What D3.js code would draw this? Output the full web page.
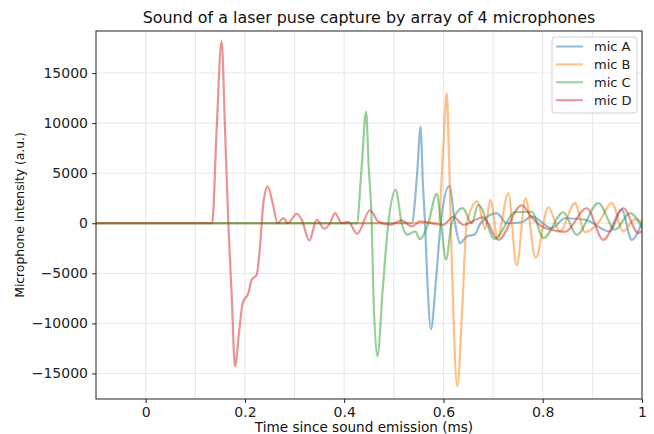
<!DOCTYPE html>
<html>
<head>
<meta charset="utf-8">
<script src="https://cdn.jsdelivr.net/npm/d3@7"></script>
<style>
  html, body { margin: 0; padding: 0; background: #fff; }
  svg { display: block; font-family: "DejaVu Sans", sans-serif; }
</style>
</head>
<body>
<svg id="chart" width="654" height="434"></svg>
<script>
// ---- data (time in ms, intensity in a.u.) ----
const seriesNames = ["mic A", "mic B", "mic C", "mic D"];
const seriesColors = ["#1f77b4", "#ff7f0e", "#2ca02c", "#d62728"];

const micA = [[-0.1,0],[0.2,0],[0.5361,0],[0.5461,4340],[0.5542,9660],[0.5582,4340],[0.5629,0],[0.5675,-5640],[0.5749,-10560],[0.585,-5640],[0.5945,0],[0.6118,3740],[0.6233,0],[0.6334,-1980],[0.6469,-1320],[0.6636,-1100],[0.6736,-100],[0.7073,1020],[0.7274,0],[0.7577,100],[0.7778,680],[0.8181,-480],[0.8449,500],[0.8852,350],[0.9355,-820],[0.9591,1350],[0.9793,-1650],[1.0026,520]];

const micB = [[-0.1,0],[0.2,0],[0.5896,0],[0.5997,7660],[0.6066,12990],[0.6106,7660],[0.6146,0],[0.6199,-8960],[0.6279,-16290],[0.6374,-8960],[0.6469,0],[0.6686,2180],[0.6837,-600],[0.6944,2350],[0.7089,-1400],[0.7307,3010],[0.7476,-4200],[0.7653,2510],[0.7857,-3450],[0.8112,1600],[0.8348,-820],[0.865,2020],[0.8852,-900],[0.9114,0],[0.939,2020],[0.9623,-820],[0.9859,420],[1.0026,0]];

const micC = [[-0.1,0],[0.2,0],[0.4253,0],[0.4353,5670],[0.444,11160],[0.4494,5670],[0.4555,0],[0.4587,-6640],[0.4668,-13290],[0.4776,-6640],[0.4889,0],[0.5038,3340],[0.5159,0],[0.5272,-1150],[0.5427,-820],[0.5528,-1580],[0.5695,0],[0.5864,2940],[0.5951,0],[0.6052,-3640],[0.6166,0],[0.6388,1520],[0.6569,0],[0.6702,1850],[0.7035,-1550],[0.7442,1100],[0.7778,1150],[0.8012,-1480],[0.8415,1100],[0.8684,-1150],[0.912,2020],[0.9456,-650],[0.9758,1020],[1.0026,-650]];

const micD = [[-0.1,0],[0.07,0],[0.134,0],[0.143,9300],[0.153,18200],[0.160,9300],[0.1666,0],[0.1735,-7300],[0.180,-14300],[0.1888,-10600],[0.1956,-7960],[0.2069,-6970],[0.2137,-5640],[0.2238,-5140],[0.2305,-2300],[0.2371,2000],[0.246,3670],[0.256,2000],[0.266,0],[0.2774,520],[0.2863,0],[0.3044,950],[0.3145,350],[0.3298,-1720],[0.3447,350],[0.360,-550],[0.3715,0],[0.3815,1020],[0.395,0],[0.4083,150],[0.426,-1050],[0.452,1300],[0.4688,180],[0.4923,-150],[0.5159,280],[0.5361,-320],[0.5528,180],[0.5997,-150],[0.620,650],[0.640,-150],[0.6803,600],[0.7105,-1650],[0.7577,1800],[0.7778,600],[0.7979,-300],[0.8213,-700],[0.8449,-850],[0.8886,1500],[0.922,-1650],[0.9623,1500],[0.9925,-980],[1.0026,-650]];

const seriesData = [micA, micB, micC, micD];

const xTicks = [0, 0.2, 0.4, 0.6, 0.8, 1.0];
const xTickLabels = ["0", "0.2", "0.4", "0.6", "0.8", "1"];
const xGrid = [0, 0.1, 0.2, 0.3, 0.4, 0.5, 0.6, 0.7, 0.8, 0.9, 1.0];
const yTicks = [-15000, -10000, -5000, 0, 5000, 10000, 15000];
const xDomain = [-0.1, 1.0];
const yDomain = [-17550, 19200];

const titleText = "Sound of a laser puse capture by array of 4 microphones";
const xLabelText = "Time since sound emission (ms)";
const yLabelText = "Microphone intensity (a.u.)";

// ---- layout ----
const svg = d3.select("#chart");
const L = 96, R = 642, T = 31, B = 399;

const x = d3.scaleLinear().domain(xDomain).range([L, R]);
const y = d3.scaleLinear().domain(yDomain).range([B, T]);

// grid
const grid = svg.append("g");
grid.selectAll("line.gx").data(xGrid).enter().append("line")
  .attr("x1", d => x(d)).attr("x2", d => x(d))
  .attr("y1", T).attr("y2", B)
  .attr("stroke", "#e6e6e6").attr("stroke-width", 1);
grid.selectAll("line.gy").data(yTicks).enter().append("line")
  .attr("x1", L).attr("x2", R)
  .attr("y1", d => y(d)).attr("y2", d => y(d))
  .attr("stroke", "#e6e6e6").attr("stroke-width", 1);

// clip
svg.append("clipPath").attr("id", "clip").append("rect")
  .attr("x", L).attr("y", T).attr("width", R - L).attr("height", B - T);

const line = d3.line()
  .x(d => x(d[0])).y(d => y(d[1]))
  .curve(d3.curveMonotoneX);

const lines = svg.append("g").attr("clip-path", "url(#clip)");
seriesData.forEach((s, i) => {
  lines.append("path")
    .datum(s)
    .attr("d", line)
    .attr("fill", "none")
    .attr("stroke", seriesColors[i])
    .attr("stroke-opacity", 0.5)
    .attr("stroke-width", 2.2)
    .attr("stroke-linejoin", "round");
});

// axes
const xAxis = d3.axisBottom(x).tickValues(xTicks)
  .tickFormat((d, i) => xTickLabels[i]).tickSize(4).tickPadding(4);
const yAxis = d3.axisLeft(y).tickValues(yTicks)
  .tickFormat(d => d < 0 ? "\u2212" + Math.abs(d) : String(d)).tickSize(4).tickPadding(4);

const gx = svg.append("g").attr("transform", `translate(0,${B})`).call(xAxis);
const gy = svg.append("g").attr("transform", `translate(${L},0)`).call(yAxis);
[gx, gy].forEach(g => {
  g.select(".domain").remove();
  g.selectAll("text").attr("font-size", 14).attr("fill", "#222")
    .attr("font-family", "'DejaVu Sans', sans-serif");
  g.selectAll("line").attr("stroke", "#222");
});

// frame
svg.append("rect").attr("x", L).attr("y", T).attr("width", R - L).attr("height", B - T)
  .attr("fill", "none").attr("stroke", "#222").attr("stroke-width", 1);

// title & labels
svg.append("text").attr("x", (L + R) / 2).attr("y", 23)
  .attr("text-anchor", "middle").attr("font-size", 15.9).attr("fill", "#111")
  .text(titleText);
svg.append("text").attr("x", 364).attr("y", 432)
  .attr("text-anchor", "middle").attr("font-size", 13.6).attr("fill", "#111")
  .text(xLabelText);
svg.append("text").attr("transform", "translate(24,215) rotate(-90)")
  .attr("text-anchor", "middle").attr("font-size", 12.3).attr("fill", "#111")
  .text(yLabelText);

// legend
const lg = svg.append("g");
lg.append("rect").attr("x", 552).attr("y", 37).attr("width", 85).attr("height", 76)
  .attr("rx", 3).attr("fill", "#fff").attr("fill-opacity", 0.8)
  .attr("stroke", "#d0d0d0").attr("stroke-width", 1);
seriesNames.forEach((n, i) => {
  const cy = 46.5 + i * 17.9;
  lg.append("line").attr("x1", 556).attr("x2", 583).attr("y1", cy).attr("y2", cy)
    .attr("stroke", seriesColors[i]).attr("stroke-opacity", 0.5).attr("stroke-width", 2);
  lg.append("text").attr("x", 594).attr("y", cy + 4.5)
    .attr("font-size", 13).attr("fill", "#222").text(n);
});
</script>
</body>
</html>
